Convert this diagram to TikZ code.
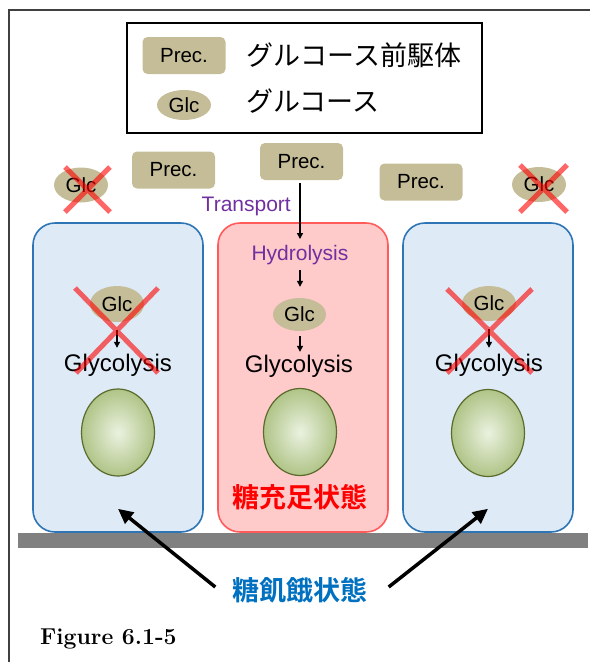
\documentclass[tikz,border=0pt]{standalone}
\usepackage{fontspec}
\setsansfont{Liberation Sans}
\newfontfamily\jfont[BoldFont = {Noto Sans CJK JP Bold}]{Noto Sans CJK JP}
\usepackage{tikz}
\usetikzlibrary{arrows.meta}
\usetikzlibrary{shapes.geometric}
\usetikzlibrary{positioning}
\usetikzlibrary{calc}

\definecolor{tan}{HTML}{C4BD97}
\definecolor{cellblue}{HTML}{DEEBF7}
\definecolor{cellblueline}{HTML}{2E75B6}
\definecolor{cellred}{HTML}{FFCACA}
\definecolor{cellredline}{HTML}{FF5B5B}
\definecolor{purpletxt}{HTML}{7030A0}
\definecolor{bluetxt}{HTML}{0070C0}
\definecolor{nucin}{HTML}{EAF2E0}
\definecolor{nucout}{HTML}{B0C487}
\definecolor{nucline}{HTML}{5A6B2C}
\definecolor{framecol}{HTML}{404040}
\definecolor{floorcol}{HTML}{808080}

\tikzstyle{prec} = [rectangle, rounded corners = 5pt, fill = tan, minimum width = 83pt, minimum height = 37pt, inner sep = 0pt, font = \sffamily\fontsize{20.5}{20.5}\selectfont]
\tikzstyle{glc} = [ellipse, fill = tan, minimum width = 54pt, minimum height = 35pt, inner sep = 0pt, font = \sffamily\fontsize{20.5}{20.5}\selectfont]
\tikzstyle{cell} = [rectangle, rounded corners = 22pt, line width = 1.6pt, minimum width = 170pt, minimum height = 309pt]
\tikzstyle{nucleus} = [ellipse, draw = nucline, line width = 1.2pt, inner color = nucin, outer color = nucout, minimum width = 73pt, minimum height = 87pt]
\tikzstyle{glyco} = [inner sep = 0pt, text height = 17pt, text depth = 5pt, font = \sffamily\fontsize{24}{24}\selectfont]
\tikzstyle{proctext} = [inner sep = 0pt, text = purpletxt, font = \sffamily\fontsize{21}{21}\selectfont]
\tikzstyle{jtext} = [inner sep = 0pt, anchor = west, font = \jfont\fontsize{27}{27}\selectfont]
\tikzstyle{statetext} = [inner sep = 0pt, font = \jfont\bfseries\fontsize{27}{27}\selectfont]
\tikzstyle{cross} = [draw = red, line width = 5pt]
\tikzstyle{arrow} = [line width = 1.3pt, -{Triangle[length = 6pt, width = 6pt]}]
\tikzstyle{bigarrow} = [line width = 3.5pt, -{Triangle[length = 15pt, width = 14pt]}]

\begin{document}
\begin{tikzpicture}[x = 1pt, y = -1pt]
	\useasboundingbox (0,0) rectangle (590,662);
	
	% Outer frame
	\draw[framecol, line width = 1.2pt] (9,662) -- (9,10) -- (590,10);
	
	% Legend
	\node[draw, line width = 1.6pt, minimum width = 355pt, minimum height = 110pt] (legend) at (304.5,78) {};
	\node[prec] (legprec) at (184,55.5) {Prec.};
	\node[glc, minimum height = 30pt] (legglc) at (184,105) {Glc};
	\node[jtext, right = 21pt of legprec] (legprectext) {グルコース前駆体};
	\node[jtext, right = 35pt of legglc, yshift = 4pt] (legglctext) {グルコース};
	
	% Outside the cells
	\node[glc] (glcA) at (81,185) {Glc};
	\node[prec] (precA) at (173.5,170) {Prec.};
	\node[prec] (precB) at (301.5,161.5) {Prec.};
	\node[prec] (precC) at (421,182) {Prec.};
	\node[glc] (glcB) at (539,184.5) {Glc};
	
	% Cells
	\node[cell, draw = cellblueline, fill = cellblue] (cellL) at (118,377.5) {};
	\node[cell, draw = cellredline, fill = cellred] (cellM) at (303,377.5) {};
	\node[cell, draw = cellblueline, fill = cellblue] (cellR) at (488,377.5) {};
	\fill[floorcol] (18,533) rectangle (588,548);
	
	% Left cell
	\node[glc, minimum height = 36pt] (glcL) at (117,304) {Glc};
	\node[glyco] (glycL) at (118,365) {Glycolysis};
	\node[nucleus] (nucL) at (118,432.5) {};
	\draw[arrow, shorten <= 8pt, shorten >= 6pt] (glcL.south) -- (glycL.north -| glcL.south);
	
	% Middle cell
	\node[proctext] (hydro) at (300,255) {Hydrolysis};
	\node[glc, minimum width = 53pt, minimum height = 33pt] (glcM) at (299.5,314.5) {Glc};
	\node[glyco] (glycM) at (299,366) {Glycolysis};
	\node[nucleus] (nucM) at (300,432) {};
	\node[statetext, text = red] (fed) at (300,497) {糖充足状態};
	\draw[arrow, shorten <= 5pt, shorten >= 11pt] (hydro.south) -- (glcM.north -| hydro.south);
	\draw[arrow, shorten <= 5pt, shorten >= 3pt] (glcM.south -| hydro.south) -- (glycM.north -| hydro.south);
	
	% Right cell
	\node[glc, minimum height = 35pt] (glcR) at (489,303.5) {Glc};
	\node[glyco] (glycR) at (489,365) {Glycolysis};
	\node[nucleus] (nucR) at (488,433) {};
	\draw[arrow, shorten <= 8pt, shorten >= 6pt] (glcR.south) -- (glycR.north -| glcR.south);
	
	% Transport into the middle cell
	\draw[arrow, shorten <= 3pt, shorten >= 6pt] (precB.south -| hydro.north) -- (hydro.north);
	\node[proctext, anchor = east] (transport) at (291,206) {Transport};
	
	% Crosses
	\begin{scope}[transparency group, opacity = 0.6]
		\draw[cross] ($(glcA) + (-16,-18)$) -- ($(glcA) + (29,27)$);
		\draw[cross] ($(glcA) + (29,-18)$) -- ($(glcA) + (-16,27)$);
		\draw[cross] ($(glcB) + (-19,-19.5)$) -- ($(glcB) + (28,27.5)$);
		\draw[cross] ($(glcB) + (28,-19.5)$) -- ($(glcB) + (-19,27.5)$);
		\draw[cross] ($(glcL) + (-42,-16)$) -- ($(glcL) + (41,69)$);
		\draw[cross] ($(glcL) + (41,-16)$) -- ($(glcL) + (-41,69)$);
		\draw[cross] ($(glcR) + (-42,-14.5)$) -- ($(glcR) + (43,69.5)$);
		\draw[cross] ($(glcR) + (43,-14.5)$) -- ($(glcR) + (-42,69.5)$);
	\end{scope}
	
	% Starved cells
	\node[statetext, text = bluetxt] (starve) at (300,590) {糖飢餓状態};
	\coordinate[above = 24pt of cellL.south] (tipL);
	\coordinate[above = 24pt of cellR.south] (tipR);
	\coordinate (startL) at ($(starve.west) + (-17,-3)$);
	\coordinate (startR) at ($(starve.east) + (21,-3)$);
	\draw[bigarrow] (startL) -- (tipL);
	\draw[bigarrow] (startR) -- (tipR);
	
	% Caption
	\node[anchor = base west, inner sep = 0pt, font = \bfseries\fontsize{23}{23}\selectfont] (caption) at (40,644) {Figure 6.1-5};
	
\end{tikzpicture}
\end{document}
